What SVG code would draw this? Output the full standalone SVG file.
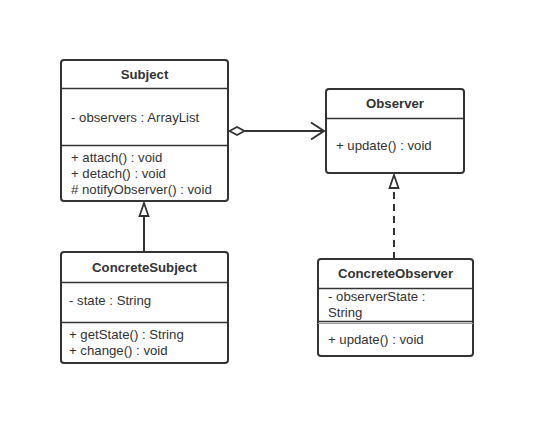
<svg xmlns="http://www.w3.org/2000/svg" width="533" height="424" viewBox="0 0 533 424">
<style>
.box{fill:#fff;stroke:#333;stroke-width:2}
.div{stroke:#333;stroke-width:1.5}
text{font-family:"Liberation Sans",Arial,sans-serif;font-size:13.2px;fill:#333}
.t{font-weight:bold;text-anchor:middle}
.c{fill:none;stroke:#333;stroke-width:2}
</style>
<rect width="533" height="424" fill="#fff"/>
<g id="connectors">
<line class="c" x1="144" y1="252" x2="144" y2="215"/>
<path d="M144,203 L148.5,216 L139.5,216 Z" fill="#fff" stroke="#333" stroke-width="1.8"/>
<line class="c" x1="394" y1="259" x2="394" y2="187" stroke-dasharray="7,5"/>
<path d="M394,175 L398.5,188 L389.5,188 Z" fill="#fff" stroke="#333" stroke-width="1.8"/>
<line class="c" x1="245" y1="131" x2="324" y2="131"/>
<path d="M229.5,131 L237,127 L244.5,131 L237,135 Z" fill="#fff" stroke="#333" stroke-width="1.8"/>
<path d="M311,122.5 L324,131 L311,139.5" fill="none" stroke="#333" stroke-width="2"/>
</g>
<g id="Subject">
<rect class="box" x="61" y="60" width="167" height="141" rx="3"/>
<line class="div" x1="61" y1="88.5" x2="228" y2="88.5"/>
<line class="div" x1="61" y1="145.5" x2="228" y2="145.5"/>
<text class="t" x="144.5" y="79">Subject</text>
<text x="71" y="121.5">- observers : ArrayList</text>
<text x="71" y="161.5">+ attach() : void</text>
<text x="71" y="177.5">+ detach() : void</text>
<text x="71" y="193.5"># notifyObserver() : void</text>
</g>
<g id="Observer">
<rect class="box" x="326" y="89" width="138" height="84" rx="3"/>
<line class="div" x1="326" y1="118.5" x2="464" y2="118.5"/>
<text class="t" x="395" y="108">Observer</text>
<text x="336" y="149.5">+ update() : void</text>
</g>
<g id="ConcreteSubject">
<rect class="box" x="61" y="252" width="167" height="111" rx="3"/>
<line class="div" x1="61" y1="282.5" x2="228" y2="282.5"/>
<line class="div" x1="61" y1="322.5" x2="228" y2="322.5"/>
<text class="t" x="144.5" y="271.5">ConcreteSubject</text>
<text x="69" y="304.5">- state : String</text>
<text x="69" y="338.5">+ getState() : String</text>
<text x="69" y="354.5">+ change() : void</text>
</g>
<g id="ConcreteObserver">
<rect class="box" x="318" y="259" width="155" height="97" rx="3"/>
<line class="div" x1="318" y1="288.5" x2="473" y2="288.5"/>
<line class="div" x1="318" y1="321.5" x2="473" y2="321.5"/>
<line x1="318" y1="323.5" x2="473" y2="323.5" stroke="#999" stroke-width="1"/>
<text class="t" x="395.5" y="277.5">ConcreteObserver</text>
<text x="328" y="300.5">- observerState :</text>
<text x="328" y="316.5">String</text>
<text x="328" y="343.5">+ update() : void</text>
</g>
</svg>
